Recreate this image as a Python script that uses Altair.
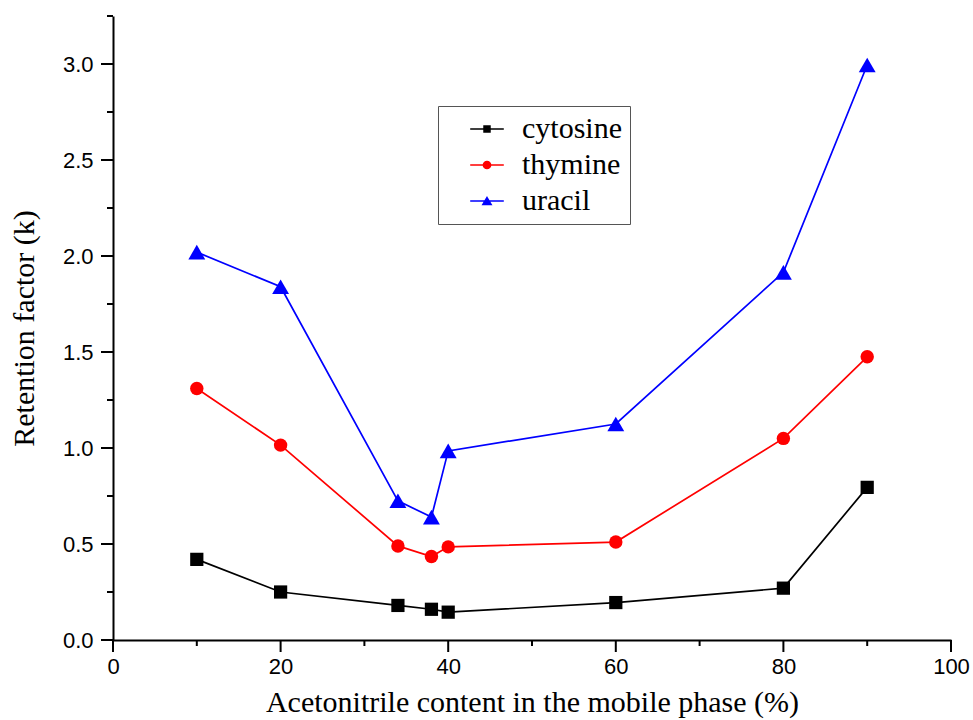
import altair as alt
import pandas as pd

# Acetonitrile content (%) in the mobile phase
acetonitrile = [10, 20, 34, 38, 40, 60, 80, 90]

# Retention factors (k) for each nucleobase
cytosine = [0.42, 0.25, 0.18, 0.16, 0.145, 0.195, 0.27, 0.795]
thymine = [1.31, 1.015, 0.49, 0.435, 0.485, 0.51, 1.05, 1.475]
uracil = [2.02, 1.84, 0.725, 0.64, 0.985, 1.125, 1.915, 2.995]

series_names = ["cytosine", "thymine", "uracil"]
series_colors = ["#000000", "#ff0000", "#0000ff"]
plot_shapes = ["square", "circle", "triangle-up"]
plot_sizes = [175, 180, 285]

# legend glyphs: a short line segment with the marker drawn over it
legend_glyphs = [
    "M-1.2,0H1.2M-0.21,-0.21H0.21V0.21H-0.21Z",
    "M-1.2,0H1.2M-0.255,0A0.255,0.255,0,1,0,0.255,0A0.255,0.255,0,1,0,-0.255,0Z",
    "M-1.2,0H1.2M0,-0.24L0.29,0.24H-0.29Z",
]

major_x = [0, 20, 40, 60, 80, 100]
minor_x = [10, 30, 50, 70, 90]
major_y = [0.0, 0.5, 1.0, 1.5, 2.0, 2.5, 3.0]
minor_y = [0.25, 0.75, 1.25, 1.75, 2.25, 2.75, 3.25]

rows = []
for name, values in zip(series_names, [cytosine, thymine, uracil]):
    for xv, kv in zip(acetonitrile, values):
        rows.append({"acn": xv, "k": kv, "series": name})
df = pd.DataFrame(rows)

x_scale = alt.Scale(domain=[0, 100], nice=False, zero=False)
y_scale = alt.Scale(domain=[0, 3.25], nice=False)

x_major = alt.X(
    "acn:Q", scale=x_scale,
    axis=alt.Axis(
        title="Acetonitrile content in the mobile phase (%)",
        orient="bottom", values=major_x, labelFlush=False, grid=False,
        ticks=False, labelPadding=16, titlePadding=10,
    ),
)
y_major = alt.Y(
    "k:Q", scale=y_scale,
    axis=alt.Axis(
        title="Retention factor (k)",
        orient="left", values=major_y, format=".1f", labelFlush=False, grid=False,
        ticks=False, labelPadding=20, titlePadding=23,
    ),
)
x_plain = alt.X("acn:Q", scale=x_scale, axis=None)
y_plain = alt.Y("k:Q", scale=y_scale, axis=None)

series_legend = alt.Legend(
    title=None,
    orient="none",
    legendX=325,
    legendY=90,
    symbolSize=784,
    symbolStrokeWidth=1.6,
    symbolOffset=26,
    labelOffset=20,
    labelFont="Liberation Serif",
    labelFontSize=30,
    labelColor="#000000",
    rowPadding=6,
    padding=8,
    fillColor="#ffffff",
    strokeColor="#555555",
)

base = alt.Chart(df)

# outward tick marks along both axes, long at labelled values and short between them
def x_ticks(values, length):
    return (
        alt.Chart(pd.DataFrame({"v": values}))
        .mark_rule(color="#000000", strokeWidth=2, clip=False)
        .encode(x=alt.X("v:Q", scale=x_scale, axis=None),
                y=alt.value(624), y2=alt.value(624 + length))
    )

def y_ticks(values, length):
    return (
        alt.Chart(pd.DataFrame({"v": values}))
        .mark_rule(color="#000000", strokeWidth=2, clip=False)
        .encode(y=alt.Y("v:Q", scale=y_scale, axis=None),
                x=alt.value(0), x2=alt.value(-length))
    )

tick_layers = [x_ticks(major_x, 12), x_ticks(minor_x, 6), y_ticks(major_y, 12), y_ticks(minor_y, 6)]

series_layers = []
for name, colour, shape, size in zip(series_names, series_colors, plot_shapes, plot_sizes):
    one = base.transform_filter(alt.datum.series == name)
    series_layers.append(one.mark_line(strokeWidth=1.7, color=colour).encode(x=x_plain, y=y_plain))
    series_layers.append(
        one.mark_point(filled=True, opacity=1, shape=shape, size=size, color=colour)
        .encode(x=x_plain, y=y_plain)
    )

axes_layer = base.mark_point(opacity=0).encode(x=x_major, y=y_major)

legend_layer = base.transform_filter("false").mark_point(filled=True, opacity=1, size=784).encode(
    x=x_plain,
    y=y_plain,
    color=alt.Color("series:N", scale=alt.Scale(domain=series_names, range=series_colors),
                    legend=series_legend),
    stroke=alt.Stroke("series:N", scale=alt.Scale(domain=series_names, range=series_colors),
                      legend=series_legend),
    shape=alt.Shape("series:N", scale=alt.Scale(domain=series_names, range=legend_glyphs),
                    legend=series_legend),
)

chart = (
    alt.layer(axes_layer, *tick_layers, *series_layers, legend_layer)
    .resolve_axis(x="independent", y="independent")
    .properties(
        width=838,
        height=624,
        autosize=alt.AutoSizeParams(type="none"),
        padding={"left": 113, "top": 16, "right": 22, "bottom": 80},
        background="#ffffff",
    )
    .configure_view(stroke=None)
    .configure_axis(
        domainColor="#000000",
        domainWidth=2,
        labelFont="Liberation Sans",
        labelFontSize=22,
        labelColor="#000000",
        titleFont="Liberation Serif",
        titleFontSize=30,
        titleFontWeight="normal",
        titleColor="#000000",
        labelOverlap=False,
    )
)

chart.save("out.html", embed_options={"renderer": "svg", "actions": False})
